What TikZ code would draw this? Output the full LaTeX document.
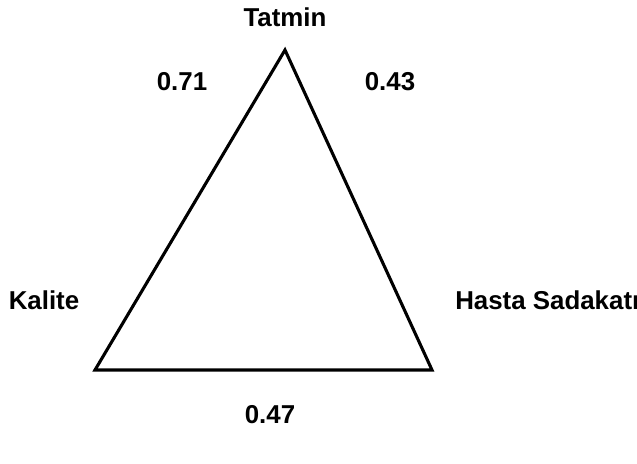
\documentclass[tikz,border=0pt]{standalone}
\usepackage{fontspec}
\setmainfont{Liberation Sans}
\usetikzlibrary{positioning}

\begin{document}
\begin{tikzpicture}[
    x=0.025cm, y=-0.025cm,
    lbl/.style={
      inner sep=0pt, font=\fontsize{18.4}{22}\selectfont\bfseries, text=black
    },
    edge/.style={
      draw=black, line width=2.2pt, line join=miter
    }
  ]
  \useasboundingbox (0,0) rectangle (637,464);

  % ---- Triangle corners ----
  \coordinate (top)   at (285,50);
  \coordinate (left)  at (95,370);
  \coordinate (right) at (432,370);

  % ---- Triangle ----
  \draw[edge] (top) -- (left) -- (right) -- cycle;

  % ---- Corner labels ----
  \node[lbl] (TATMIN) at (285,17) {Tatmin};
  \node[lbl] (KALITE) at (44,300) {Kalite};
  \node[lbl, anchor=west] (SADAKAT) at (455,300) {Hasta Sadakatı};

  % ---- Side values ----
  \node[lbl] (v1) at (182,82)  {0.71};
  \node[lbl] (v2) at (390,82)  {0.43};
  \node[lbl] (v3) at (270,415) {0.47};
\end{tikzpicture}
\end{document}
